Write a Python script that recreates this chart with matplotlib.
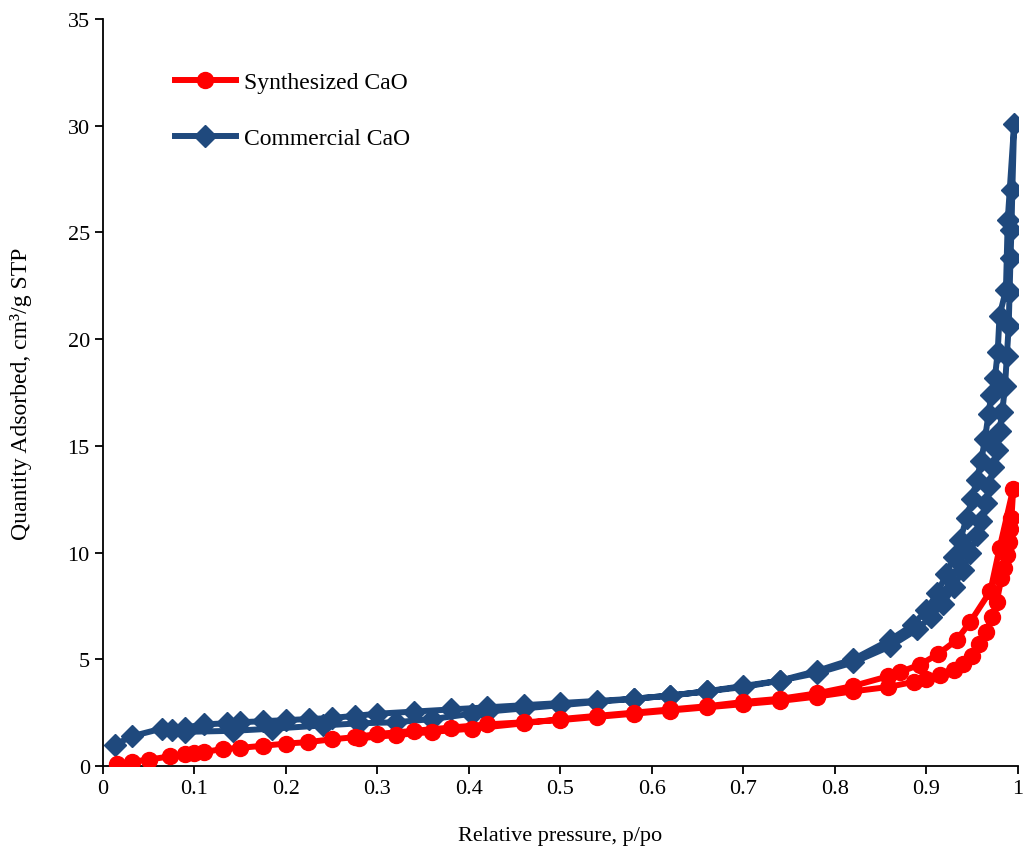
import matplotlib
matplotlib.use("Agg")
import matplotlib.pyplot as plt

plt.rcParams['font.family'] = ['Liberation Serif', 'DejaVu Serif']

# Synthesized CaO: adsorption then desorption branch
syn_x = [0.015, 0.032, 0.05, 0.073, 0.09, 0.1, 0.11, 0.131, 0.15, 0.175, 0.2, 0.224,
         0.25, 0.275, 0.3, 0.34, 0.38, 0.42, 0.46, 0.5, 0.54, 0.58, 0.62, 0.66, 0.70,
         0.74, 0.78, 0.82, 0.858, 0.887, 0.9, 0.915, 0.93, 0.94, 0.95, 0.958, 0.965,
         0.972, 0.977, 0.982, 0.985, 0.988, 0.99, 0.991, 0.993, 0.995,
         0.98, 0.97, 0.948, 0.933, 0.913, 0.893, 0.871, 0.858, 0.82, 0.78, 0.74, 0.70,
         0.66, 0.62, 0.58, 0.54, 0.5, 0.46, 0.403, 0.36, 0.32, 0.28]
syn_y = [0.1, 0.2, 0.3, 0.45, 0.55, 0.6, 0.65, 0.8, 0.85, 0.95, 1.05, 1.12,
         1.25, 1.35, 1.5, 1.65, 1.8, 1.95, 2.05, 2.15, 2.3, 2.45, 2.6, 2.75, 2.9,
         3.05, 3.25, 3.5, 3.7, 3.95, 4.1, 4.25, 4.5, 4.8, 5.15, 5.7, 6.3,
         7.0, 7.7, 8.8, 9.3, 9.9, 10.5, 11.1, 11.6, 13.0,
         10.2, 8.2, 6.75, 5.9, 5.25, 4.75, 4.4, 4.2, 3.75, 3.4, 3.15, 3.0,
         2.8, 2.65, 2.5, 2.35, 2.2, 2.0, 1.75, 1.6, 1.45, 1.3]

# Commercial CaO: adsorption then desorption branch
com_x = [0.013, 0.032, 0.064, 0.09, 0.11, 0.135, 0.15, 0.175, 0.2, 0.225, 0.25, 0.275,
         0.3, 0.34, 0.38, 0.42, 0.46, 0.5, 0.54, 0.58, 0.62, 0.66, 0.70, 0.74, 0.78,
         0.82, 0.86, 0.89, 0.905, 0.918, 0.93, 0.94, 0.948, 0.955, 0.96, 0.965, 0.969,
         0.973, 0.977, 0.98, 0.983, 0.986, 0.988, 0.99, 0.991, 0.992, 0.993, 0.994, 0.996,
         0.989, 0.987, 0.98, 0.978, 0.975, 0.971, 0.968, 0.964, 0.96, 0.955, 0.95, 0.944,
         0.937, 0.93, 0.922, 0.912, 0.9, 0.885, 0.86, 0.82, 0.78, 0.74, 0.70, 0.66, 0.62,
         0.58, 0.54, 0.5, 0.46, 0.42, 0.403, 0.36, 0.32, 0.28, 0.24, 0.185, 0.142, 0.09,
         0.075]
com_y = [1.0, 1.4, 1.75, 1.8, 1.95, 2.0, 2.05, 2.1, 2.15, 2.2, 2.25, 2.35,
         2.45, 2.55, 2.65, 2.75, 2.85, 2.95, 3.05, 3.15, 3.3, 3.5, 3.7, 4.0, 4.35,
         4.85, 5.6, 6.4, 7.0, 7.6, 8.4, 9.2, 10.0, 10.8, 11.5, 12.3, 13.1,
         14.0, 14.8, 15.7, 16.6, 17.8, 19.2, 20.6, 22.2, 23.8, 25.1, 27.0, 30.1,
         25.6, 22.3, 21.1, 19.4, 18.2, 17.4, 16.5, 15.3, 14.3, 13.4, 12.5, 11.6,
         10.6, 9.8, 9.0, 8.1, 7.3, 6.6, 5.9, 5.0, 4.45, 4.0, 3.75, 3.5, 3.3,
         3.15, 3.0, 2.85, 2.7, 2.55, 2.45, 2.2, 2.05, 2.0, 1.9, 1.75, 1.65, 1.6,
         1.7]

fig = plt.figure(figsize=(10.25, 8.53), dpi=100)
ax = fig.add_axes([0.1005, 0.1008, 0.8925, 0.8758])

ax.plot(com_x, com_y, color='#1F497D', lw=4.3, marker='D', ms=11.5,
        label='Commercial CaO', zorder=2)
ax.plot(syn_x, syn_y, color='#FF0000', lw=4.3, marker='o', ms=11.5,
        label='Synthesized CaO', zorder=3)

ax.set_xlim(0, 1)
ax.set_ylim(0, 35)
ax.set_xticks([0, 0.1, 0.2, 0.3, 0.4, 0.5, 0.6, 0.7, 0.8, 0.9, 1])
ax.set_xticklabels(['0', '0.1', '0.2', '0.3', '0.4', '0.5', '0.6', '0.7', '0.8', '0.9', '1'])
ax.set_yticks(range(0, 36, 5))
ax.tick_params(direction='out', length=6, width=1.3, labelsize=16)
for s in ['top', 'right']:
    ax.spines[s].set_visible(False)
for s in ['left', 'bottom']:
    ax.spines[s].set_linewidth(1.3)

ax.set_xlabel('Relative pressure, p/po', fontsize=16)
ax.set_ylabel('Quantity Adsorbed, cm³/g STP', fontsize=17)
ax.xaxis.set_label_coords(0.5, -0.08)
ax.yaxis.set_label_coords(-0.078, 0.5)

h, l = ax.get_legend_handles_labels()
ax.legend(h[::-1], l[::-1], loc='upper left', bbox_to_anchor=(0.055, 0.958),
          frameon=False, fontsize=17, handlelength=2.6, handletextpad=0.35,
          labelspacing=1.45)

fig.savefig('out.png', dpi=100)
